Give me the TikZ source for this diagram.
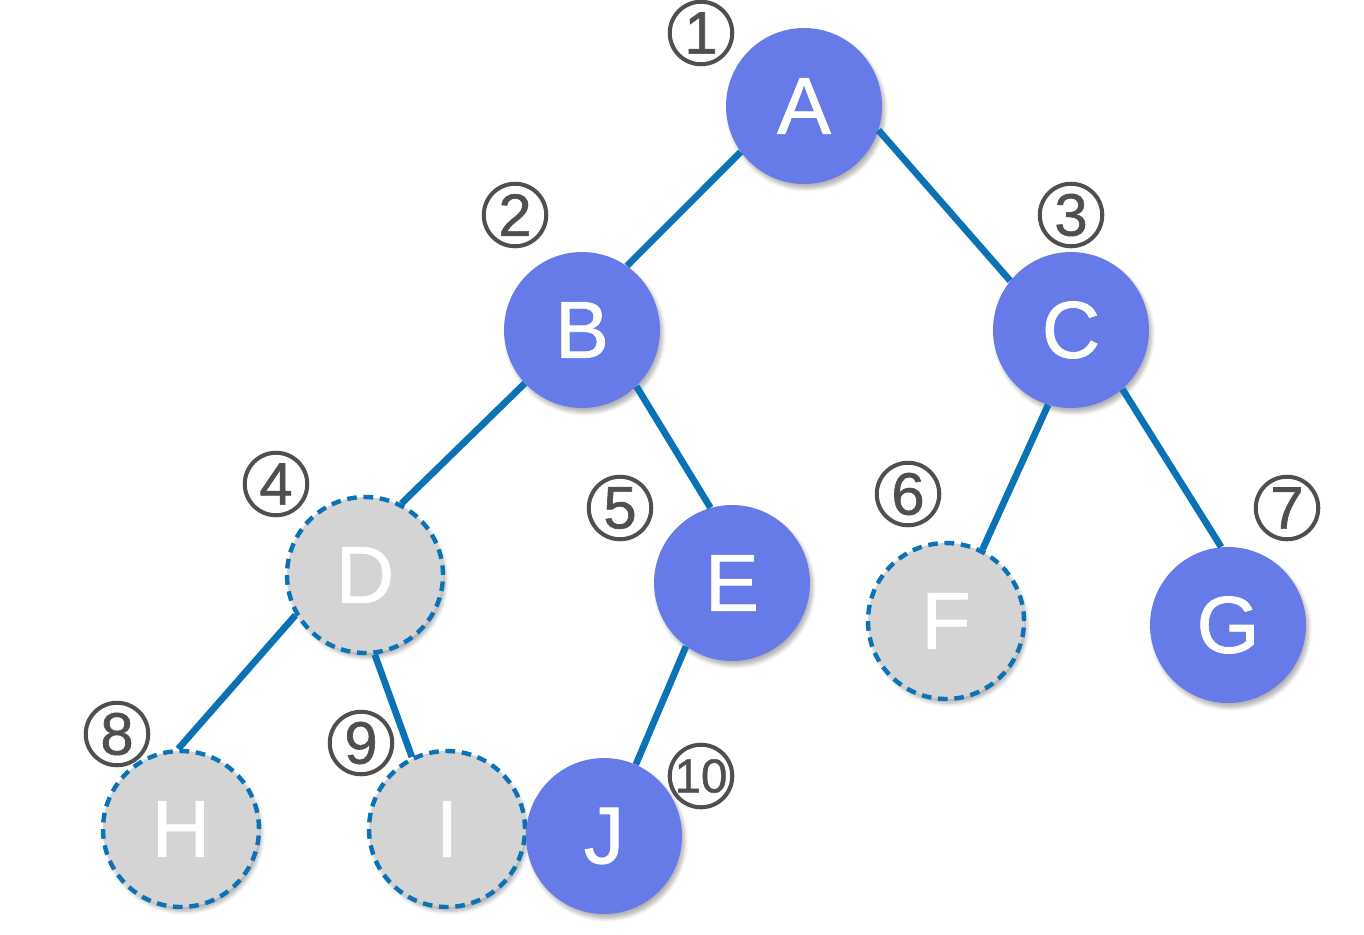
\documentclass[tikz,border=0pt]{standalone}
\usepackage{fontspec}
\setmainfont{Liberation Sans}
\newfontface\letterfont[FakeBold=0.9]{Liberation Sans}
\newfontface\numfont[FakeBold=1.0]{Liberation Sans}
\usetikzlibrary{shadows.blur}
\definecolor{nodeblue}{HTML}{667BE8}
\definecolor{nodegray}{HTML}{D4D4D4}
\definecolor{edgeblue}{HTML}{0A72B5}
\definecolor{numgray}{HTML}{4F4F4F}
\tikzset{
  tn/.style={circle, minimum size=3.12cm, inner sep=0pt, text=white,
    font=\letterfont\fontsize{46}{46}\selectfont,
    blur shadow={shadow xshift=1.5pt, shadow yshift=-2.5pt, shadow opacity=30, shadow blur steps=6}},
  full/.style={tn, fill=nodeblue},
  empty/.style={tn, fill=nodegray, draw=edgeblue, line width=2.5pt, dash pattern=on 5.5pt off 3.8pt},
  edge/.style={draw=edgeblue, line width=3.8pt},
  num/.style={circle, draw=numgray, line width=2.3pt, minimum size=1.25cm, inner sep=0pt,
    text=numgray, font=\numfont\fontsize{34}{34}\selectfont},
  numsm/.style={num, font=\numfont\fontsize{27}{27}\selectfont}
}
\begin{document}
\begin{tikzpicture}[x=0.02cm, y=-0.02cm]
\useasboundingbox (0,0) rectangle (1364,934);
\node[full] (A) at (804,106) {A};
\node[full] (B) at (582,330) {B};
\node[full] (C) at (1071,330) {C};
\node[empty] (D) at (365,575) {D};
\node[full] (E) at (732,583) {E};
\node[empty] (F) at (946,621) {F};
\node[full] (G) at (1228,625) {G};
\node[empty] (H) at (181,829) {H};
\node[empty] (I) at (447,829) {I};
\node[full] (J) at (604,836) {J};
\draw[edge] (A.216) -- (B.55);
\draw[edge] (A.342) -- (C.141);
\draw[edge] (B.223) -- (D.63);
\draw[edge] (B.314) -- (E.106);
\draw[edge] (C.253) -- (F.63);
\draw[edge] (C.311) -- (G.95);
\draw[edge] (D.210) -- (H.92);
\draw[edge] (D.277) -- (I.116);
\draw[edge] (E.234) -- (J.66);
\node[num] (n1) at (701,33) {1};
\node[num] (n2) at (515,215) {2};
\node[num] (n3) at (1071,215) {3};
\node[num] (n4) at (276,484) {4};
\node[num] (n5) at (620,508) {5};
\node[num] (n6) at (908,494) {6};
\node[num] (n7) at (1287,508) {7};
\node[num] (n8) at (117,734) {8};
\node[num] (n9) at (361,743) {9};
\node[numsm] (n10) at (701,776) {10};
\end{tikzpicture}
\end{document}
